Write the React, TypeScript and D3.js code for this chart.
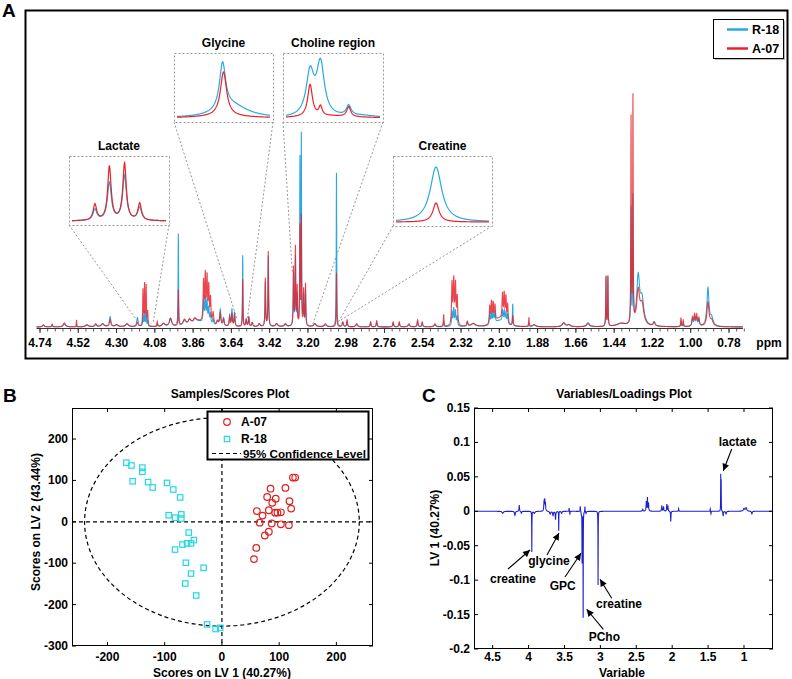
import React from 'react';
import * as d3 from 'd3';

const FONT = "'Liberation Sans', Arial, Helvetica, sans-serif";
const BLUE = '#2aa8e0';
const RED = '#e8232a';

// ---------------- Panel A: 1H NMR spectra ----------------
const ppmTicks = [4.74, 4.52, 4.3, 4.08, 3.86, 3.64, 3.42, 3.2, 2.98, 2.76, 2.54, 2.32, 2.1, 1.88, 1.66, 1.44, 1.22, 1.0, 0.78];
const ppmTickLabels = ['4.74', '4.52', '4.30', '4.08', '3.86', '3.64', '3.42', '3.20', '2.98', '2.76', '2.54', '2.32', '2.10', '1.88', '1.66', '1.44', '1.22', '1.00', '0.78'];
const seriesNames = ['R-18', 'A-07'];

// peak list: [ppm, R-18 intensity, A-07 intensity, half width (ppm)]
const specPeaks: [number, number, number, number][] = [
  [4.72, 2, 2, 0.006], [4.67, 2, 3, 0.003], [4.6, 3, 4, 0.008], [4.53, 2, 7, 0.0015],
  [4.47, 2, 2, 0.01], [4.42, 2, 3, 0.006], [4.38, 3, 3, 0.01], [4.337, 10, 7, 0.005],
  [4.3, 2, 2, 0.01], [4.24, 3, 3, 0.01], [4.18, 9, 4, 0.005],
  [4.148, 12, 36, 0.002], [4.139, 15, 41, 0.002], [4.13, 14, 40, 0.002], [4.121, 6, 14, 0.002],
  [4.066, 3, 5, 0.002], [4.03, 3, 3, 0.01], [3.99, 8, 8, 0.008], [3.945, 92, 36, 0.0015],
  [3.91, 5, 6, 0.01], [3.88, 5, 5, 0.01], [3.85, 4, 4, 0.01], [3.83, 5, 5, 0.04],
  [3.8, 22, 40, 0.003], [3.79, 25, 46, 0.003], [3.78, 22, 44, 0.003], [3.77, 16, 36, 0.003],
  [3.76, 10, 25, 0.003], [3.745, 6, 12, 0.004], [3.72, 5, 4, 0.006], [3.704, 16, 13, 0.004],
  [3.685, 8, 7, 0.004], [3.65, 11, 9, 0.003], [3.637, 17, 13, 0.003], [3.622, 14, 11, 0.003],
  [3.575, 71, 47, 0.0015], [3.555, 7, 7, 0.003], [3.54, 9, 9, 0.003], [3.52, 4, 4, 0.004],
  [3.48, 3, 3, 0.006], [3.445, 44, 48, 0.002], [3.428, 70, 75, 0.002], [3.38, 3, 3, 0.008],
  [3.33, 2, 3, 0.008], [3.283, 52, 58, 0.002], [3.272, 68, 78, 0.002], [3.262, 30, 38, 0.002],
  [3.246, 164, 98, 0.0015], [3.238, 188, 108, 0.0015], [3.225, 30, 36, 0.002], [3.214, 35, 42, 0.002],
  [3.16, 3, 3, 0.008], [3.1, 2, 3, 0.008], [3.036, 154, 54, 0.0015], [3.0, 4, 5, 0.004],
  [2.975, 5, 7, 0.003], [2.92, 3, 3, 0.006], [2.84, 4, 5, 0.003], [2.805, 5, 6, 0.003],
  [2.71, 4, 5, 0.003], [2.675, 4, 5, 0.003], [2.62, 2, 3, 0.006], [2.57, 5, 7, 0.003],
  [2.543, 4, 5, 0.003], [2.47, 2, 3, 0.006], [2.42, 6, 12, 0.002],
  [2.372, 14, 42, 0.003], [2.362, 17, 44, 0.003], [2.352, 15, 40, 0.003], [2.342, 9, 28, 0.003],
  [2.284, 4, 5, 0.004], [2.25, 3, 3, 0.015],
  [2.155, 10, 18, 0.003], [2.145, 11, 21, 0.003], [2.135, 11, 19, 0.003], [2.125, 10, 16, 0.003],
  [2.1, 6, 8, 0.03], [2.082, 11, 26, 0.003], [2.072, 12, 27, 0.003], [2.062, 11, 25, 0.003],
  [2.052, 10, 18, 0.003], [2.023, 22, 10, 0.002], [1.93, 3, 9, 0.002], [1.9, 2, 2, 0.01],
  [1.73, 4, 4, 0.01], [1.7, 2, 2, 0.01], [1.59, 4, 3, 0.01],
  [1.487, 49, 50, 0.0015], [1.476, 49, 50, 0.0015], [1.4, 3, 3, 0.03],
  [1.343, 115, 205, 0.0015], [1.332, 125, 225, 0.0015], [1.302, 48, 34, 0.01], [1.28, 25, 20, 0.012],
  [1.21, 4, 4, 0.006], [1.056, 5, 9, 0.002], [1.043, 4, 7, 0.002],
  [0.99, 7, 9, 0.004], [0.978, 8, 11, 0.004], [0.966, 8, 11, 0.004], [0.953, 6, 8, 0.004],
  [0.901, 38, 24, 0.007], [0.88, 8, 6, 0.01],
];

// inset spectra: [relative position, intensity, half width]
const lactateR18: [number, number, number][] = [[0.244, 11, 0.025], [0.398, 38, 0.025], [0.559, 45, 0.025], [0.72, 13, 0.025]];
const lactateA07: [number, number, number][] = [[0.244, 16, 0.022], [0.398, 54, 0.022], [0.559, 57, 0.022], [0.72, 17, 0.022]];
const glycineR18: [number, number, number][] = [[0.49, 47, 0.04], [0.6, 12, 0.2]];
const glycineA07: [number, number, number][] = [[0.5, 44, 0.04], [0.5, 2, 0.3]];
const cholineR18: [number, number, number][] = [[0.256, 43, 0.05], [0.367, 52, 0.05], [0.667, 10, 0.03], [0.8, 2, 0.2]];
const cholineA07: [number, number, number][] = [[0.256, 32, 0.03], [0.367, 9, 0.02], [0.667, 10, 0.025], [0.45, 2, 0.3]];
const creatineR18: [number, number, number][] = [[0.43, 55, 0.075]];
const creatineA07: [number, number, number][] = [[0.43, 19, 0.04]];

// ---------------- Panel B: PLS-DA scores ----------------
const scoresA07: [number, number][] = [
  [124, 107], [128, 107], [111, 82], [85, 80], [79, 60], [94, 56], [88, 46], [118, 50],
  [82, 28], [121, 32], [61, 26], [71, 15], [93, 22], [97, 22], [103, 23], [66, -2],
  [87, -4], [103, -6], [117, -8], [82, -24], [75, -33], [60, -63], [56, -90],
];
const scoresR18: [number, number][] = [
  [-167, 143], [-158, 136], [-139, 131], [-139, 121], [-156, 98], [-129, 96], [-121, 83],
  [-96, 94], [-85, 78], [-73, 59], [-93, 16], [-82, 10], [-71, 18], [-71, 8], [-58, -26],
  [-49, -44], [-54, -52], [-61, -52], [-69, -55], [-82, -67], [-63, -99], [-32, -111],
  [-54, -125], [-64, -149], [-45, -178], [-26, -248], [-11, -259], [-3, -256],
];
const scoreXTicks = [-200, -100, 0, 100, 200];
const scoreYTicks = [-300, -200, -100, 0, 100, 200];
const confidenceRadii = [240, 252];

// ---------------- Panel C: LV1 loadings ----------------
const loadXTicks = [4.5, 4, 3.5, 3, 2.5, 2, 1.5, 1];
const loadXLabels = ['4.5', '4', '3.5', '3', '2.5', '2', '1.5', '1'];
const loadYTicks = [-0.2, -0.15, -0.1, -0.05, 0, 0.05, 0.1, 0.15];
const loadYLabels = ['-0.2', '-0.15', '-0.1', '-0.05', '0', '0.05', '0.1', '0.15'];
// [ppm, loading, half width]
const loadPeaks: [number, number, number][] = [
  [4.36, -0.003, 0.01], [4.19, -0.006, 0.006], [4.13, 0.009, 0.004], [4.1, -0.003, 0.006],
  [3.955, -0.059, 0.0015], [3.92, -0.003, 0.01], [3.785, 0.012, 0.004], [3.775, 0.016, 0.004],
  [3.765, 0.01, 0.004], [3.7, -0.004, 0.008], [3.66, -0.006, 0.006], [3.625, -0.012, 0.004],
  [3.58, -0.028, 0.0015], [3.54, -0.003, 0.006], [3.435, 0.005, 0.002], [3.425, -0.005, 0.002],
  [3.28, 0.008, 0.003], [3.265, -0.004, 0.003], [3.255, -0.074, 0.0015], [3.24, -0.154, 0.0015],
  [3.215, 0.008, 0.002], [3.2, -0.003, 0.005], [3.032, -0.107, 0.0015], [2.41, 0.003, 0.005],
  [2.36, 0.014, 0.004], [2.345, 0.019, 0.003], [2.33, 0.012, 0.004], [2.145, 0.008, 0.004],
  [2.12, 0.006, 0.005], [2.075, 0.01, 0.003], [2.06, 0.008, 0.004], [2.02, -0.015, 0.003],
  [1.91, 0.004, 0.003], [1.47, 0.004, 0.003], [1.46, -0.004, 0.003], [1.324, 0.052, 0.0015],
  [1.318, 0.044, 0.0015], [1.29, -0.007, 0.004], [1.25, -0.004, 0.006], [1.0, 0.004, 0.01],
  [0.97, 0.005, 0.01], [0.89, -0.004, 0.006],
];
// annotations: label, text position, arrow tail, arrow tip (ppm, loading)
const loadNotes: { label: string; text: [number, number]; tail: [number, number]; tip: [number, number] }[] = [
  { label: 'lactate', text: [1.088, 0.0948], tail: [1.171, 0.0905], tip: [1.288, 0.0589] },
  { label: 'creatine', text: [4.217, -0.1041], tail: [4.287, -0.0838], tip: [3.98, -0.0562] },
  { label: 'glycine', text: [3.716, -0.078], tail: [3.743, -0.0635], tip: [3.576, -0.0315] },
  { label: 'GPC', text: [3.525, -0.1143], tail: [3.493, -0.0954], tip: [3.27, -0.061] },
  { label: 'PCho', text: [2.945, -0.1884], tail: [2.959, -0.1714], tip: [3.191, -0.1423] },
  { label: 'creatine', text: [2.741, -0.1405], tail: [2.842, -0.1264], tip: [3.005, -0.0988] },
];

const lor = (x: number, x0: number, h: number, w: number) => h / (1 + ((x - x0) / w) ** 2);

function spectrum(idx: 1 | 2) {
  const xs = d3.range(4.76, 0.7, -0.0005).concat(specPeaks.map((p) => p[0])).sort((a, b) => b - a);
  return xs.map((x) => [x, 1 + d3.sum(specPeaks, (p) => lor(x, p[0], p[idx], p[3]))] as [number, number]);
}
function loadings() {
  const xs = d3.range(4.76, 0.61, -0.001).concat(loadPeaks.map((p) => p[0])).sort((a, b) => b - a);
  return xs.map((x) => [x, d3.sum(loadPeaks, (p) => lor(x, p[0], p[1], p[2]))] as [number, number]);
}

const specR18 = spectrum(1);
const specA07 = spectrum(2);
const loadLine = loadings();

type Inset = {
  name: string; x: number; y: number; w: number; h: number;
  r18: [number, number, number][]; a07: [number, number, number][];
  left: [number, number]; right: [number, number];
};
const insets: Inset[] = [
  { name: 'Lactate', x: 69, y: 156, w: 100, h: 69, r18: lactateR18, a07: lactateA07, left: [4.193, 10], right: [4.09, 5] },
  { name: 'Glycine', x: 174, y: 53, w: 99, h: 69, r18: glycineR18, a07: glycineA07, left: [3.606, 8], right: [3.548, 10] },
  { name: 'Choline region', x: 283, y: 53, w: 100, h: 69, r18: cholineR18, a07: cholineA07, left: [3.29, 55], right: [3.174, 3] },
  { name: 'Creatine', x: 393, y: 156, w: 99, h: 70, r18: creatineR18, a07: creatineA07, left: [3.025, 6], right: [3.01, 8] },
];

function insetPath(peaks: [number, number, number][], b: Inset) {
  const t = d3.range(0, 1.0001, 0.004);
  const xs = d3.scaleLinear().domain([0, 1]).range([b.x + 3, b.x + b.w - 3]);
  const base = b.y + b.h - 3;
  return d3.line<number>()
    .x((d) => xs(d))
    .y((d) => base - 1 - d3.sum(peaks, (p) => lor(d, p[0], p[1], p[2])))(t) as string;
}

export default function App() {
  // Panel A scales
  const xA = d3.scaleLinear().domain([4.74, 0.78]).range([40, 729]);
  const yA = d3.scaleLinear().domain([0, 240]).range([328, 88]);
  const lineA = d3.line<[number, number]>().x((d) => xA(d[0])).y((d) => yA(d[1]));
  const minorA = d3.range(0, 93).map((k) => 4.74 - k * 0.044).filter((v) => v >= 0.69);

  // Panel B scales
  const xB = d3.scaleLinear().domain([-262, 264]).range([72, 373]);
  const yB = d3.scaleLinear().domain([-300, 275]).range([646, 408]);

  // Panel C scales
  const xC = d3.scaleLinear().domain([4.76, 0.61]).range([474, 772]);
  const yC = d3.scaleLinear().domain([-0.2, 0.15]).range([649, 408]);
  const lineC = d3.line<[number, number]>().x((d) => xC(d[0])).y((d) => yC(d[1]));

  const tk = 4;

  return (
    <svg width={792} height={679} style={{ position: 'absolute', left: 0, top: 0, background: '#fff' }}
      fontFamily={FONT} fontWeight="bold">
      <defs>
        <marker id="arr" viewBox="0 0 10 10" refX="10" refY="5" markerWidth="8" markerHeight="7"
          markerUnits="userSpaceOnUse" orient="auto">
          <path d="M0,0 L10,5 L0,10 z" fill="#000" />
        </marker>
      </defs>
      <rect x={0} y={0} width={792} height={679} fill="#fff" />

      {/* ===== Panel A ===== */}
      <text x={2} y={17} fontSize={19}>A</text>
      <rect x={25.5} y={10.5} width={762} height={348} fill="none" stroke="#000" strokeWidth={2} />

      {/* zoom guide lines */}
      {insets.map((b) => (
        <g key={'z' + b.name} stroke="#8a8a8a" strokeWidth={0.9} strokeDasharray="2,2" fill="none">
          <line x1={b.x} y1={b.y + b.h} x2={xA(b.left[0])} y2={yA(b.left[1])} />
          <line x1={b.x + b.w} y1={b.y + b.h} x2={xA(b.right[0])} y2={yA(b.right[1])} />
        </g>
      ))}

      <path d={lineA(specR18) as string} fill="none" stroke={BLUE} strokeWidth={1.1} />
      <path d={lineA(specA07) as string} fill="none" stroke={RED} strokeWidth={1.1} strokeOpacity={0.85} />

      {/* insets */}
      {insets.map((b) => (
        <g key={b.name}>
          <rect x={b.x + 0.5} y={b.y + 0.5} width={b.w} height={b.h} fill="#fff" stroke="#8a8a8a"
            strokeWidth={0.9} strokeDasharray="2,2" />
          <text x={b.x + b.w / 2} y={b.y - 6} fontSize={12} textAnchor="middle">{b.name}</text>
          <path d={insetPath(b.r18, b)} fill="none" stroke={BLUE} strokeWidth={1.2} />
          <path d={insetPath(b.a07, b)} fill="none" stroke={RED} strokeWidth={1.2} />
        </g>
      ))}

      {/* ppm axis */}
      <line x1={xA(4.76)} x2={xA(0.7)} y1={328.5} y2={328.5} stroke="#333" strokeWidth={1} />
      {minorA.map((v, i) => (
        <line key={'m' + i} x1={xA(v)} x2={xA(v)} y1={328.5} y2={331.5} stroke="#333" strokeWidth={0.8} />
      ))}
      {ppmTicks.map((v, i) => (
        <g key={'pt' + i}>
          <line x1={xA(v)} x2={xA(v)} y1={328.5} y2={333} stroke="#333" strokeWidth={1} />
          <text x={xA(v)} y={347} fontSize={12} textAnchor="middle">{ppmTickLabels[i]}</text>
        </g>
      ))}
      <text x={769} y={347} fontSize={12} textAnchor="middle">ppm</text>

      {/* legend A */}
      <rect x={715} y={21} width={70} height={39} fill="#bbb" />
      <rect x={713.5} y={19.5} width={70} height={39} fill="#fff" stroke="#000" strokeWidth={1} />
      <line x1={727} x2={748} y1={29.5} y2={29.5} stroke={BLUE} strokeWidth={2.5} />
      <line x1={727} x2={748} y1={48.5} y2={48.5} stroke={RED} strokeWidth={2.5} />
      <text x={752} y={34} fontSize={12.5}>{seriesNames[0]}</text>
      <text x={752} y={53} fontSize={12.5}>{seriesNames[1]}</text>

      {/* ===== Panel B ===== */}
      <text x={3} y={402} fontSize={19}>B</text>
      <text x={230} y={398} fontSize={12} textAnchor="middle">Samples/Scores Plot</text>
      <ellipse cx={xB(0)} cy={yB(0)} rx={xB(confidenceRadii[0]) - xB(0)} ry={yB(0) - yB(confidenceRadii[1])}
        fill="none" stroke="#000" strokeWidth={1.2} strokeDasharray="4,3" />
      <line x1={xB(0)} x2={xB(0)} y1={yB(275)} y2={yB(-300)} stroke="#000" strokeWidth={1.2} strokeDasharray="4,3" />
      <line x1={xB(-262)} x2={xB(264)} y1={yB(0)} y2={yB(0)} stroke="#000" strokeWidth={1.2} strokeDasharray="4,3" />
      {scoresR18.map((d, i) => (
        <rect key={'s' + i} x={xB(d[0]) - 2.7} y={yB(d[1]) - 2.7} width={5.4} height={5.4}
          fill="none" stroke="#22d8e4" strokeWidth={1.2} />
      ))}
      {scoresA07.map((d, i) => (
        <circle key={'c' + i} cx={xB(d[0])} cy={yB(d[1])} r={3.3} fill="none" stroke="#e0201f" strokeWidth={1.2} />
      ))}
      <rect x={72.5} y={408.5} width={300} height={237} fill="none" stroke="#000" strokeWidth={1} />
      {scoreXTicks.map((v) => (
        <g key={'bx' + v}>
          <line x1={xB(v)} x2={xB(v)} y1={646} y2={646 - tk} stroke="#000" />
          <line x1={xB(v)} x2={xB(v)} y1={408} y2={408 + tk} stroke="#000" />
          <text x={xB(v)} y={661} fontSize={12} textAnchor="middle">{v}</text>
        </g>
      ))}
      {scoreYTicks.map((v) => (
        <g key={'by' + v}>
          <line x1={72} x2={72 + tk} y1={yB(v)} y2={yB(v)} stroke="#000" />
          <line x1={373} x2={373 - tk} y1={yB(v)} y2={yB(v)} stroke="#000" />
          <text x={68} y={yB(v) + 4} fontSize={12} textAnchor="end">{v}</text>
        </g>
      ))}
      <text x={222} y={677} fontSize={12} textAnchor="middle">Scores on LV 1 (40.27%)</text>
      <text transform="translate(40,522) rotate(-90)" fontSize={12} textAnchor="middle">Scores on LV 2 (43.44%)</text>

      {/* legend B */}
      <rect x={207.5} y={411.5} width={161} height={48} fill="#fff" stroke="#000" strokeWidth={2} />
      <circle cx={227} cy={422} r={3.3} fill="none" stroke="#e0201f" strokeWidth={1.2} />
      <text x={241} y={426} fontSize={12}>A-07</text>
      <rect x={224.3} y={436.3} width={5.4} height={5.4} fill="none" stroke="#22d8e4" strokeWidth={1.2} />
      <text x={241} y={443} fontSize={12}>R-18</text>
      <line x1={212} x2={241} y1={453.5} y2={453.5} stroke="#000" strokeWidth={1.2} strokeDasharray="4,3" />
      <text x={243} y={458} fontSize={11.5} textLength={123} lengthAdjust="spacingAndGlyphs">95% Confidence Level</text>

      {/* ===== Panel C ===== */}
      <text x={422} y={402} fontSize={19}>C</text>
      <text x={624} y={398} fontSize={12} textAnchor="middle">Variables/Loadings Plot</text>
      <path d={lineC(loadLine) as string} fill="none" stroke="#1f22cc" strokeWidth={1.1} />
      <rect x={474.5} y={408.5} width={298} height={240} fill="none" stroke="#000" strokeWidth={1} />
      {loadXTicks.map((v, i) => (
        <g key={'cx' + i}>
          <line x1={xC(v)} x2={xC(v)} y1={649} y2={649 - tk} stroke="#000" />
          <line x1={xC(v)} x2={xC(v)} y1={408} y2={408 + tk} stroke="#000" />
          <text x={xC(v)} y={661} fontSize={12} textAnchor="middle">{loadXLabels[i]}</text>
        </g>
      ))}
      {loadYTicks.map((v, i) => (
        <g key={'cy' + i}>
          <line x1={474} x2={474 + tk} y1={yC(v)} y2={yC(v)} stroke="#000" />
          <line x1={773} x2={773 - tk} y1={yC(v)} y2={yC(v)} stroke="#000" />
          <text x={470} y={yC(v) + 4} fontSize={12} textAnchor="end">{loadYLabels[i]}</text>
        </g>
      ))}
      {loadNotes.map((n, i) => (
        <g key={'n' + i}>
          <line x1={xC(n.tail[0])} y1={yC(n.tail[1])} x2={xC(n.tip[0])} y2={yC(n.tip[1])}
            stroke="#000" strokeWidth={1.1} markerEnd="url(#arr)" />
          <text x={xC(n.text[0])} y={yC(n.text[1])} fontSize={12} textAnchor="middle">{n.label}</text>
        </g>
      ))}
      <text x={622} y={677} fontSize={12} textAnchor="middle">Variable</text>
      <text transform="translate(439,528) rotate(-90)" fontSize={12} textAnchor="middle">LV 1 (40.27%)</text>
    </svg>
  );
}
